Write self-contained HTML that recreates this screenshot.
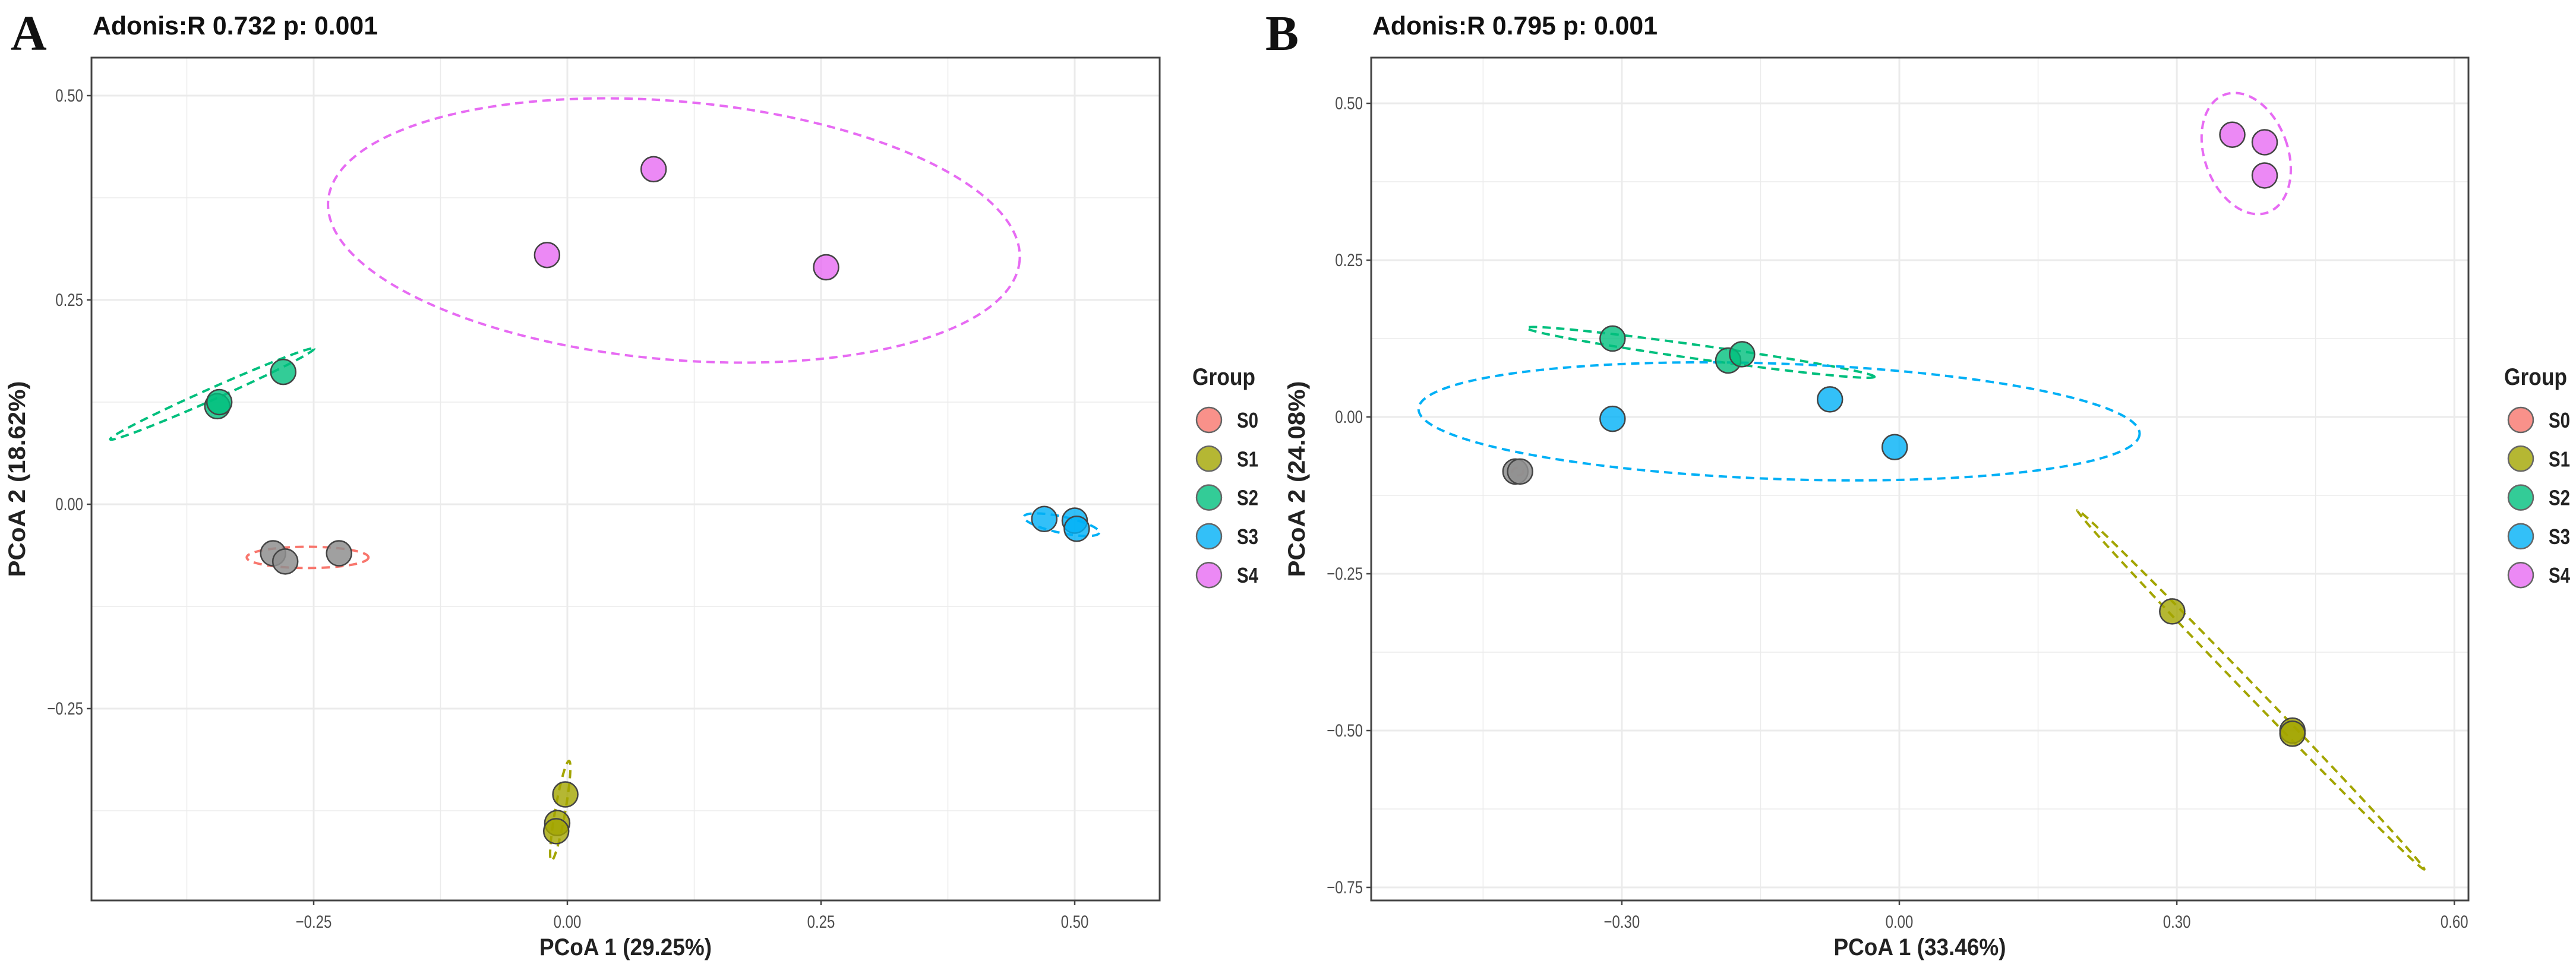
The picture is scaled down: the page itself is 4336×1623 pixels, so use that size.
<!DOCTYPE html>
<html><head><meta charset="utf-8"><style>
html,body{margin:0;padding:0;background:#fff;}
svg{display:block;font-family:"Liberation Sans",sans-serif;}
</style></head><body>
<svg id="fig" width="4336" height="1623" viewBox="0 0 4336 1623" xmlns="http://www.w3.org/2000/svg">
<rect width="4336" height="1623" fill="#fff"/>
</svg>
<script>
const groups = ['S0','S1','S2','S3','S4'];
const groupColors = ['#F8766D','#A3A500','#00BF7D','#00B0F6','#E76BF3'];
// Panel A data
const aX = [-0.29,-0.278,-0.225, -0.002,-0.010,-0.011, -0.345,-0.343,-0.280, 0.470,0.500,0.502, 0.085,-0.020,0.255];
const aY = [-0.060,-0.070,-0.060, -0.355,-0.390,-0.400, 0.120,0.125,0.162, -0.018,-0.020,-0.030, 0.410,0.305,0.290];
const aG = [0,0,0, 1,1,1, 2,2,2, 3,3,3, 4,4,4];
const aXTicks = [-0.25,0,0.25,0.5];
const aXTickLabels = ['-0.25','0.00','0.25','0.50'];
const aYTicks = [-0.25,0,0.25,0.5];
const aYTickLabels = ['-0.25','0.00','0.25','0.50'];
const aEllCx = [-0.256, -0.007, -0.35, 0.487, 0.105];
const aEllCy = [-0.065, -0.375, 0.135, -0.025, 0.335];
const aEllA = [0.060, 0.005, 0.11, 0.038, 0.342];
const aEllB = [0.013, 0.062, 0.007, 0.010, 0.158];
const aEllAng = [0, 10, -24, 12, 5];
// Panel B data
const bX = [-0.415,-0.410, 0.295,0.425,0.425, -0.310,-0.185,-0.170, -0.310,-0.075,-0.005, 0.360,0.395,0.395];
const bY = [-0.087,-0.087, -0.310,-0.500,-0.505, 0.125,0.090,0.100, -0.003,0.028,-0.048, 0.450,0.438,0.385];
const bG = [0,0, 1,1,1, 2,2,2, 3,3,3, 4,4,4];
const bXTicks = [-0.3,0,0.3,0.6];
const bXTickLabels = ['-0.30','0.00','0.30','0.60'];
const bYTicks = [-0.75,-0.5,-0.25,0,0.25,0.5];
const bYTickLabels = ['-0.75','-0.50','-0.25','0.00','0.25','0.50'];
const bEllCx = [-0.4125, 0.38, -0.215, -0.13, 0.375];
const bEllCy = [-0.087, -0.435, 0.103, -0.007, 0.42];
const bEllA = [0.006, 0.27, 0.19, 0.39, 0.045];
const bEllB = [0.006, 0.009, 0.011, 0.092, 0.10];
const bEllAng = [0, 46, 8, 2, -20];

const NS='http://www.w3.org/2000/svg';
const svg=document.getElementById('fig');
function mk(tag,attrs,parent){const e=document.createElementNS(NS,tag);for(const k in attrs)e.setAttribute(k,attrs[k]);(parent||svg).appendChild(e);return e;}

function panel(P){
  const g=mk('g',{});
  
  
  const sx=v=>P.x0+(v-P.xv0)*P.xs;
  const sy=v=>P.y0-(v-P.yv0)*P.ys;
  const xt=P.xTicks, yt=P.yTicks;
  const dx=xt[1]-xt[0], dy=yt[1]-yt[0];
  for(let k=-2;k<=2*(xt.length+1);k++){const v=xt[0]+k*dx/2;const px=sx(v);if(px>P.L&&px<P.R){const l=mk('line',{x1:px,x2:px,y1:P.T,y2:P.B,stroke:'#ebebeb','stroke-width':k%2===0?3:1.5},g);}}
  for(let k=-2;k<=2*(yt.length+1);k++){const v=yt[0]+k*dy/2;const py=sy(v);if(py>P.T&&py<P.B){const l=mk('line',{y1:py,y2:py,x1:P.L,x2:P.R,stroke:'#ebebeb','stroke-width':k%2===0?3:1.5},g);}}
  for(let i=0;i<P.eCx.length;i++){
    const e=mk('ellipse',{cx:sx(P.eCx[i]),cy:sy(P.eCy[i]),rx:P.eA[i]*P.xs,ry:P.eB[i]*P.ys,fill:'none',stroke:groupColors[i],'stroke-width':4,'stroke-dasharray':'14 9',transform:`rotate(${P.eAng[i]} ${sx(P.eCx[i])} ${sy(P.eCy[i])})`},g);
    
    
  }
  for(let i=0;i<P.px.length;i++){
    const gi=P.pg[i];
    const c=mk('circle',{cx:sx(P.px[i]),cy:sy(P.py[i]),r:21,fill:gi===0?'#8f8f8f':groupColors[gi],'fill-opacity':gi===0?0.85:0.8,stroke:'#444','stroke-width':2.5},g);
    
    
  }
  const b=mk('rect',{x:P.L,y:P.T,width:P.R-P.L,height:P.B-P.T,fill:'none',stroke:'#444','stroke-width':3},g);
  
  
  P.xTicks.forEach((v,i)=>{const px=sx(v);mk('line',{x1:px,x2:px,y1:P.B,y2:P.B+8,stroke:'#444','stroke-width':2.5},g);
    const t=mk('text',{x:px,y:P.B+46,'text-anchor':'middle','font-size':30,fill:'#4d4d4d',transform:`translate(${px} 0) scale(0.8 1) translate(${-px} 0)`},g);t.textContent=P.xLabels[i].replace('-','\u2212');
    });
  P.yTicks.forEach((v,i)=>{const py=sy(v);mk('line',{x1:P.L-8,x2:P.L,y1:py,y2:py,stroke:'#444','stroke-width':2.5},g);
    const t=mk('text',{x:P.L-14,y:py+10,'text-anchor':'end','font-size':30,fill:'#4d4d4d',transform:`translate(${P.L-14} 0) scale(0.8 1) translate(${-(P.L-14)} 0)`},g);t.textContent=P.yLabels[i].replace('-','\u2212');
    });
  const xt2=mk('text',{x:(P.L+P.R)/2,y:P.B+92,'text-anchor':'middle','font-size':40,'font-weight':'bold',fill:'#222',textLength:P.xTitleLen,lengthAdjust:'spacingAndGlyphs'},g);xt2.textContent=P.xTitle;
  
  const yc=(P.T+P.B)/2;
  const yt2=mk('text',{x:P.yTitleX,y:yc,'text-anchor':'middle','font-size':40,'font-weight':'bold',fill:'#222',transform:`rotate(-90 ${P.yTitleX} ${yc})`,textLength:330,lengthAdjust:'spacingAndGlyphs'},g);yt2.textContent=P.yTitle;
  
  const tt=mk('text',{x:P.L+2,y:58,'font-size':44,'font-weight':'bold',fill:'#111',textLength:480,lengthAdjust:'spacingAndGlyphs'},g);tt.textContent=P.title;
  
  const lt=mk('text',{x:P.letterX,y:84,'font-size':84,'font-weight':'bold','font-family':'Liberation Serif,serif',fill:'#111'},g);lt.textContent=P.letter;
  
  const lg=mk('g',{},g);
  
  
  const gt=mk('text',{x:P.legX-28,y:648,'font-size':40,'font-weight':'bold',fill:'#222',textLength:106,lengthAdjust:'spacingAndGlyphs'},lg);gt.textContent='Group';
  
  groups.forEach((s,i)=>{const cy=707+i*65.3;
    const c=mk('circle',{cx:P.legX,cy:cy,r:21,fill:groupColors[i],'fill-opacity':0.8,stroke:'#666','stroke-width':2.5},lg);
    
    const t=mk('text',{x:P.legX+47,y:cy+13,'font-size':36,'font-weight':'bold',fill:'#222',textLength:36,lengthAdjust:'spacingAndGlyphs'},lg);t.textContent=s;
    });
}

panel({name:'panel-a',L:154,R:1952,T:97,B:1516,x0:955,xv0:0,xs:1708,y0:849,yv0:0,ys:1376,
  xTicks:aXTicks,xLabels:aXTickLabels,yTicks:aYTicks,yLabels:aYTickLabels,
  px:aX,py:aY,pg:aG,eCx:aEllCx,eCy:aEllCy,eA:aEllA,eB:aEllB,eAng:aEllAng,
  xTitle:'PCoA 1 (29.25%)',xTitleLen:290,yTitle:'PCoA 2 (18.62%)',yTitleX:42,
  title:'Adonis:R 0.732 p: 0.001',letter:'A',letterX:18,legX:2035});
panel({name:'panel-b',L:2308,R:4155,T:97,B:1516,x0:3197,xv0:0,xs:1557,y0:702,yv0:0,ys:1056,
  xTicks:bXTicks,xLabels:bXTickLabels,yTicks:bYTicks,yLabels:bYTickLabels,
  px:bX,py:bY,pg:bG,eCx:bEllCx,eCy:bEllCy,eA:bEllA,eB:bEllB,eAng:bEllAng,
  xTitle:'PCoA 1 (33.46%)',xTitleLen:290,yTitle:'PCoA 2 (24.08%)',yTitleX:2196,
  title:'Adonis:R 0.795 p: 0.001',letter:'B',letterX:2130,legX:4243});
</script>
</body></html>
